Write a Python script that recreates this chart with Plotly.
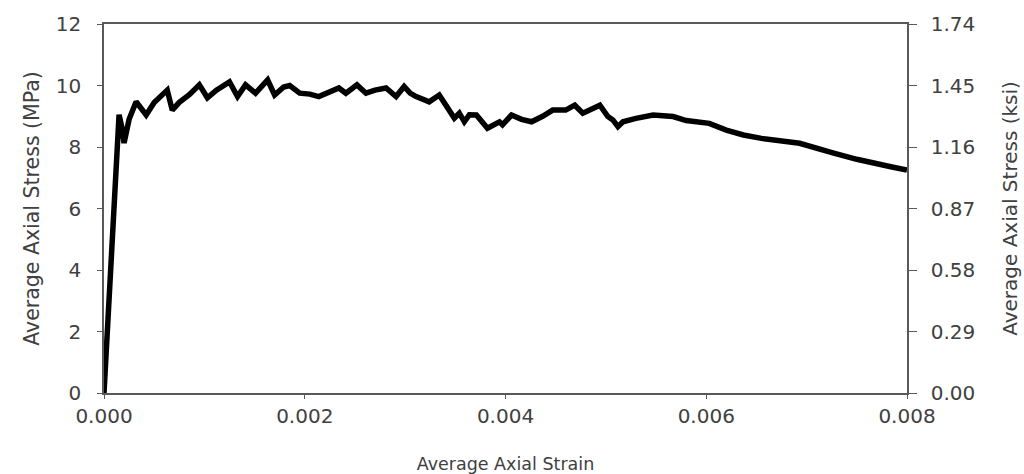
import plotly.graph_objects as go

strain = [0.0, 0.00004, 0.00008, 0.00012, 0.00015, 0.00018, 0.00020, 0.00025, 0.00032, 0.00036,
          0.00042, 0.00050, 0.00058, 0.00063, 0.00068, 0.00075, 0.00085, 0.00095, 0.00103, 0.00112,
          0.00125, 0.00133, 0.00141, 0.00151, 0.00163, 0.00170, 0.00179, 0.00185, 0.00195, 0.00205,
          0.00214, 0.00225, 0.00234, 0.00241, 0.00252, 0.00261, 0.00270, 0.00281, 0.00291, 0.00299,
          0.00305, 0.00311, 0.00324, 0.00334, 0.00341, 0.00349, 0.00354, 0.00359, 0.00364, 0.00371,
          0.00382, 0.00394, 0.00397, 0.00406, 0.00416, 0.00426, 0.00437, 0.00447, 0.00460, 0.00469,
          0.00477, 0.00494, 0.00502, 0.00507, 0.00512, 0.00517, 0.00530, 0.00547, 0.00567, 0.00580,
          0.00603, 0.00620, 0.00637, 0.00655, 0.00693, 0.00710, 0.00727, 0.00750, 0.00766, 0.00785,
          0.00800]
stress_mpa = [0.0, 2.4, 4.9, 7.5, 9.05, 8.6, 8.13, 8.9, 9.47, 9.3,
              9.04, 9.45, 9.7, 9.85, 9.2, 9.45, 9.7, 10.02, 9.6, 9.85,
              10.12, 9.64, 10.02, 9.75, 10.18, 9.69, 9.95, 10.0, 9.75, 9.72,
              9.64, 9.78, 9.92, 9.75, 10.02, 9.75, 9.85, 9.92, 9.64, 9.97,
              9.75, 9.64, 9.47, 9.69, 9.32, 8.94, 9.1, 8.82, 9.05, 9.04,
              8.61, 8.82, 8.72, 9.04, 8.9, 8.82, 9.0, 9.2, 9.2, 9.36,
              9.1, 9.36, 8.99, 8.88, 8.66, 8.82, 8.93, 9.04, 8.99, 8.86,
              8.77, 8.55, 8.39, 8.28, 8.12, 7.98, 7.80, 7.60, 7.47, 7.35,
              7.25]

x_ticks = [0.000, 0.002, 0.004, 0.006, 0.008]
x_tick_labels = ["0.000", "0.002", "0.004", "0.006", "0.008"]
y_ticks = [0, 2, 4, 6, 8, 10, 12]
y2_ticks = [0.00, 0.29, 0.58, 0.87, 1.16, 1.45, 1.74]
y2_tick_labels = ["0.00", "0.29", "0.58", "0.87", "1.16", "1.45", "1.74"]

FONT = "DejaVu Sans"
TXT = "#404040"
AX = "#595959"

fig = go.Figure()
fig.add_trace(go.Scatter(x=strain, y=stress_mpa, mode="lines",
                         line=dict(color="black", width=5.5), showlegend=False,
                         hoverinfo="skip"))
fig.add_trace(go.Scatter(x=[None], y=[None], yaxis="y2", mode="lines",
                         showlegend=False, hoverinfo="skip"))

fig.update_layout(
    width=1024, height=474,
    margin=dict(l=104, r=117, t=24, b=81, autoexpand=False),
    paper_bgcolor="white", plot_bgcolor="white",
    font=dict(family=FONT, color=TXT, size=20),
    xaxis=dict(range=[0, 0.008], tickvals=x_ticks, ticktext=x_tick_labels,
               showline=True, linecolor=AX, linewidth=1.5, mirror=True,
               ticks="outside", ticklen=4, tickcolor=AX, showgrid=False, zeroline=False,
               tickfont=dict(size=20, color=TXT), ticklabelstandoff=0,
               title=dict(text="Average Axial Strain", font=dict(size=17.5, color=TXT), standoff=31)),
    yaxis=dict(range=[0, 12], tickvals=y_ticks,
               showline=True, linecolor=AX, linewidth=1.5,
               ticks="outside", ticklen=5, tickcolor=AX, showgrid=False, zeroline=False,
               tickfont=dict(size=20, color=TXT), ticklabelstandoff=12,
               title=dict(text="Average Axial Stress (MPa)", font=dict(size=20.5, color=TXT), standoff=11)),
    yaxis2=dict(range=[0, 1.74], tickvals=y2_ticks, ticktext=y2_tick_labels,
                overlaying="y", side="right",
                showline=True, linecolor=AX, linewidth=1.5,
                ticks="outside", ticklen=8, tickcolor=AX, showgrid=False, zeroline=False,
                tickfont=dict(size=20, color=TXT), ticklabelstandoff=10,
                title=dict(text="Average Axial Stress (ksi)", font=dict(size=20, color=TXT), standoff=29)),
)

fig.write_html("out.html", config={"displayModeBar": False},
               post_script="document.body.style.margin='0';document.body.style.overflow='hidden';")
